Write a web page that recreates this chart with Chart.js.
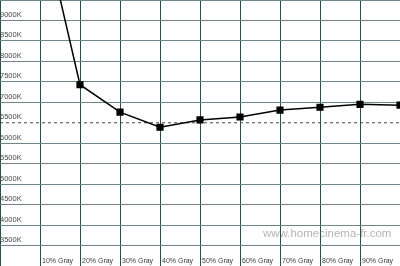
<!DOCTYPE html>
<html>
<head>
<meta charset="utf-8">
<script src="https://cdn.jsdelivr.net/npm/chart.js@4"></script>
<style>
  body { margin: 0; background: #fff; }
  canvas { display: block; }
</style>
</head>
<body>
<canvas id="grayChart" width="400" height="266"></canvas>
<script>
// gray steps (x position in %), colour temperature
const grayLevels = [10, 20, 30, 40, 50, 60, 70, 80, 90, 100];
const grayLabels = ["10% Gray", "20% Gray", "30% Gray", "40% Gray", "50% Gray", "60% Gray", "70% Gray", "80% Gray", "90% Gray"];
const tempValues = [11650, 7430, 6760, 6390, 6570, 6640, 6810, 6880, 6950, 6930];
const refTemp = 6500;
const refX = [0, 100];
const tempTicks = [3500, 4000, 4500, 5000, 5500, 6000, 6500, 7000, 7500, 8000, 8500, 9000];

const labelsPlugin = {
    id: "insideLabels",
    beforeDraw(chart) {
        const ctx = chart.ctx;
        ctx.save();
        ctx.fillStyle = "#fff";
        ctx.fillRect(0, 0, chart.width, chart.height);
        // watermark, sits under the grid
        ctx.font = "11.5px 'Liberation Sans', Arial, sans-serif";
        ctx.fillStyle = "#b4b4b4";
        ctx.textBaseline = "middle";
        ctx.textAlign = "left";
        ctx.fillText("www.homecinema-fr.com", 263, 234);
        ctx.restore();
    },
    afterDraw(chart) {
        const ctx = chart.ctx;
        const xs = chart.scales.x;
        const ys = chart.scales.y;
        ctx.save();
        ctx.textBaseline = "middle";
        ctx.textAlign = "left";
        ctx.font = "7.5px 'Liberation Sans', Arial, sans-serif";
        ctx.fillStyle = "#4a4a4a";
        tempTicks.forEach(function (t) {
            ctx.fillText(t + "K", 0, ys.getPixelForValue(t) - 5.5);
        });
        ctx.font = "7px 'Liberation Sans', Arial, sans-serif";
        ctx.fillStyle = "#3a3a3a";
        grayLabels.forEach(function (lab, i) {
            ctx.fillText(lab, xs.getPixelForValue(grayLevels[i]) + 2, 261);
        });
        ctx.restore();
    }
};

const ctx = document.getElementById("grayChart").getContext("2d");

const myChart = new Chart(ctx, {
    type: "line",
    data: {
        datasets: [
            {
                label: "Temperature",
                data: grayLevels.map(function (g, i) { return { x: g, y: tempValues[i] }; }),
                borderColor: "#000",
                backgroundColor: "#000",
                borderWidth: 1.5,
                pointStyle: "rect",
                pointRadius: 4,
                pointHoverRadius: 4,
                tension: 0,
                clip: false,
            },
            {
                label: "6500K",
                data: refX.map(function (x) { return { x: x, y: refTemp }; }),
                borderColor: "#444",
                borderWidth: 1,
                borderDash: [3, 3],
                pointRadius: 0,
            },
        ],
    },
    options: {
        responsive: false,
        animation: false,
        layout: { padding: 0, autoPadding: false },
        plugins: { legend: { display: false }, tooltip: { enabled: false } },
        scales: {
            x: {
                type: "linear",
                min: 0,
                max: 100,
                afterFit: function (s) { s.height = 0; },
                ticks: { display: false, stepSize: 10 },
                border: { display: false },
                grid: { color: "#2f4c4c", lineWidth: 1, drawTicks: false },
            },
            y: {
                min: 3000,
                max: 9500,
                afterFit: function (s) { s.width = 0; },
                ticks: { display: false, stepSize: 500 },
                border: { display: false },
                grid: {
                    drawTicks: false,
                    lineWidth: 1,
                    color: function (c) {
                        return c.tick && c.tick.value === refTemp ? "rgba(0,0,0,0)" : "#6f8484";
                    },
                },
            },
        },
    },
    plugins: [labelsPlugin],
});
</script>
</body>
</html>
